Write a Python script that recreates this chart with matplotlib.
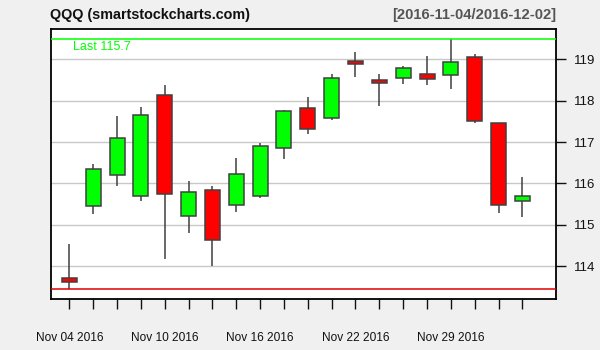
import matplotlib
matplotlib.use("Agg")
import matplotlib.pyplot as plt

plt.rcParams['font.family'] = ['Liberation Sans', 'DejaVu Sans']

# daily QQQ prices
dates = ["Nov 04 2016", "Nov 07 2016", "Nov 08 2016", "Nov 09 2016", "Nov 10 2016",
         "Nov 11 2016", "Nov 14 2016", "Nov 15 2016", "Nov 16 2016", "Nov 17 2016",
         "Nov 18 2016", "Nov 21 2016", "Nov 22 2016", "Nov 23 2016", "Nov 25 2016",
         "Nov 28 2016", "Nov 29 2016", "Nov 30 2016", "Dec 01 2016", "Dec 02 2016"]
opens = [113.71, 115.45, 116.20, 115.70, 118.13, 115.21, 115.84, 115.47, 115.69, 116.85,
         117.82, 117.59, 118.95, 118.49, 118.54, 118.64, 118.61, 119.05, 117.45, 115.57]
highs = [114.54, 116.47, 117.63, 117.85, 118.38, 116.06, 115.95, 116.62, 116.98, 117.78,
         118.09, 118.65, 119.18, 118.65, 118.84, 119.08, 119.50, 119.12, 117.46, 116.16]
lows = [113.46, 115.27, 115.95, 115.58, 114.18, 114.81, 114.01, 115.32, 115.66, 116.60,
        117.20, 117.54, 118.58, 117.87, 118.41, 118.39, 118.29, 117.45, 115.28, 115.20]
closes = [113.63, 116.34, 117.09, 117.65, 115.74, 115.79, 114.63, 116.22, 116.90, 117.74,
          117.31, 118.54, 118.88, 118.42, 118.78, 118.52, 118.93, 117.51, 115.47, 115.70]
label_every = 4
y_ticks = [114, 115, 116, 117, 118, 119]

fig = plt.figure(figsize=(6, 3.5), dpi=100)
fig.patch.set_facecolor("#F0F0F0")
ax = fig.add_axes([0.0842, 0.1457, 0.9267 - 0.0842, 0.9171 - 0.1457])
ax.set_facecolor("white")

x = list(range(len(dates)))
for i in x:
    up = closes[i] >= opens[i]
    color = "#00FF00" if up else "#FF0000"
    ax.vlines(i, lows[i], highs[i], color="#404040", lw=1.1, zorder=2)
    bottom = min(opens[i], closes[i])
    height = abs(closes[i] - opens[i])
    ax.bar(i, height, bottom=bottom, width=0.63, color=color,
           edgecolor="#404040", linewidth=1.1, zorder=3)

ax.axhline(max(highs), color="#00FF00", lw=1.1, zorder=4)
ax.axhline(min(lows), color="#E00000", lw=1.1, zorder=4)
ax.text(0.15, max(highs) - 0.05, "Last %.1f" % closes[-1], color="#00FF00",
        fontsize=9, va="top", ha="left")

ax.set_xlim(-0.79, 20.41)
ax.set_ylim(113.21, 119.73)
ax.set_yticks(y_ticks)
ax.set_yticklabels([str(t) for t in y_ticks])
ax.yaxis.tick_right()
ax.grid(axis="y", color="#C8C8C8", lw=1, zorder=0)
ax.set_axisbelow(True)

ax.set_xticks(x)
ax.set_xticklabels([d if i % label_every == 0 else "" for i, d in enumerate(dates)])
ax.tick_params(axis="x", length=7, width=1, pad=17, labelsize=8.6, colors="#111111")
ax.tick_params(axis="y", length=7, width=1, pad=6, labelsize=9.5, colors="#111111")

for s in ax.spines.values():
    s.set_linewidth(1.3)
    s.set_color("black")

fig.text(50 / 600, 1 - 15 / 350, "QQQ (smartstockcharts.com)", fontsize=10.4,
         fontweight="bold", color="#111111", ha="left", va="center")
fig.text(556 / 600, 1 - 15 / 350, "[2016-11-04/2016-12-02]", fontsize=10.6,
         fontweight="bold", color="#555555", ha="right", va="center")

fig.savefig("out.png", dpi=100, facecolor=fig.get_facecolor())
